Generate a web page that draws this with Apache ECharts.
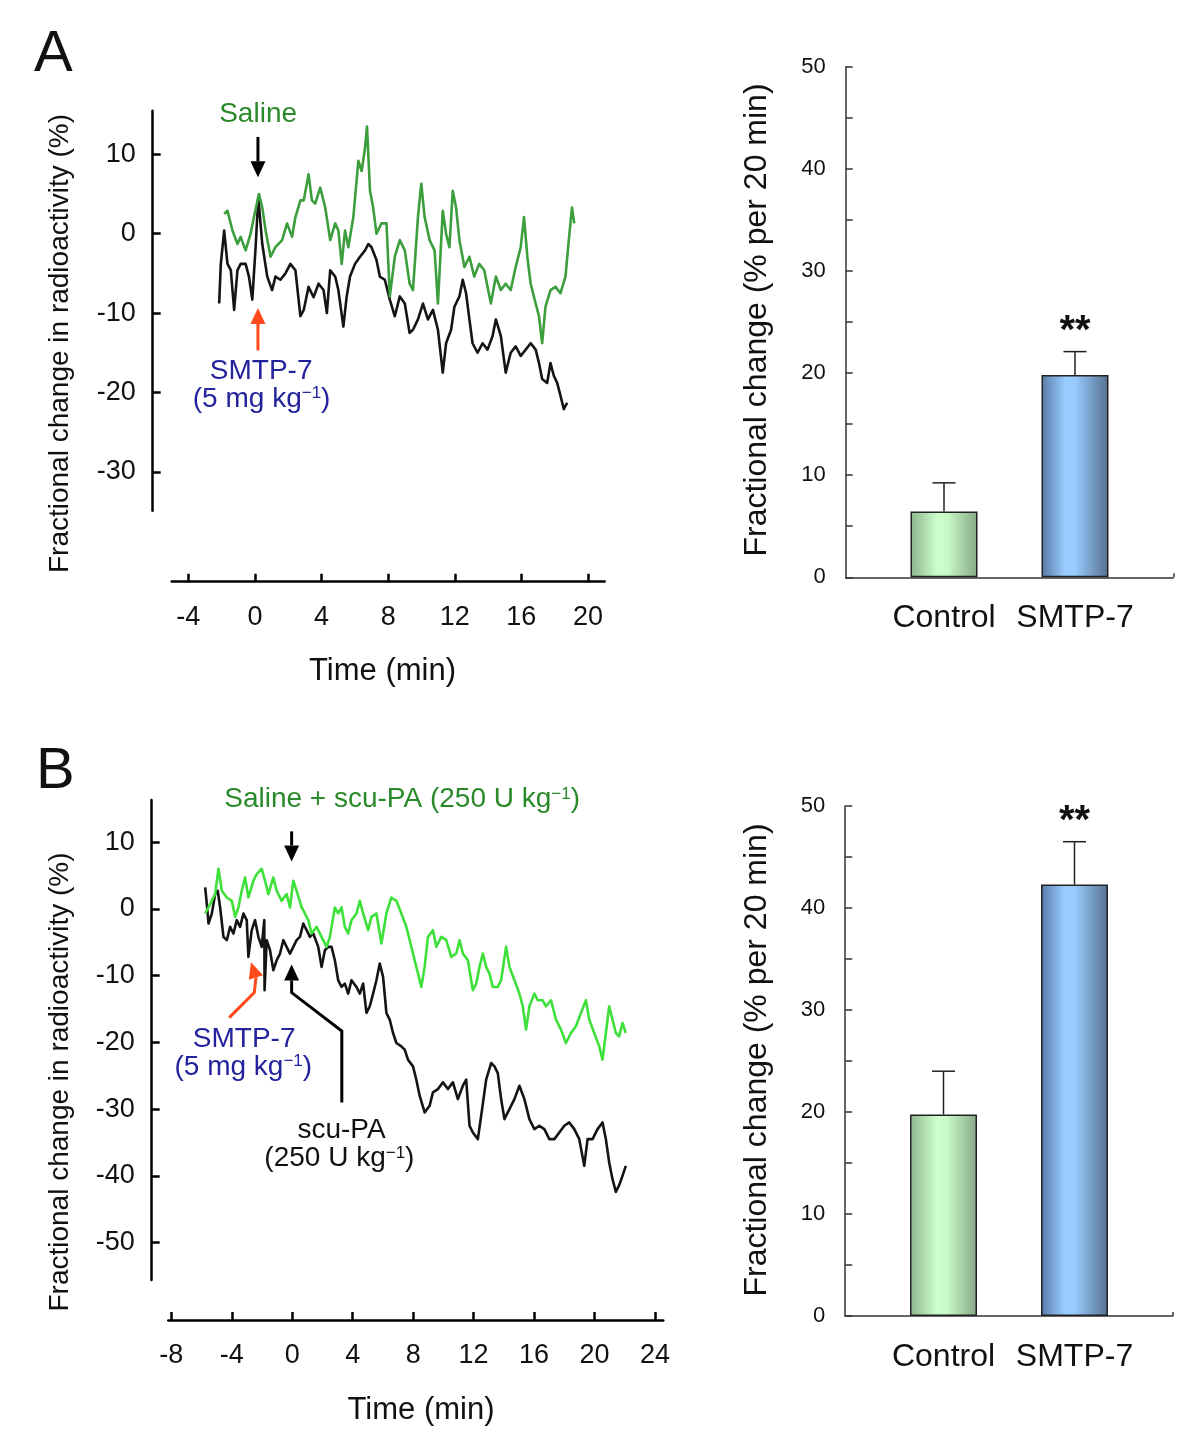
<!DOCTYPE html>
<html><head><meta charset="utf-8">
<script src="https://cdn.jsdelivr.net/npm/echarts@6/dist/echarts.min.js"></script>
<style>html,body{margin:0;padding:0;background:#fff}#c{width:1200px;height:1444px}</style>
</head><body><div id="c"></div>
<script>
// ---------------- DATA ----------------
// Panel A traces: [time (min), fractional change in radioactivity (%)]
const salineA = [[-1.85,2.5],[-1.65,2.9],[-1.35,0.4],[-1.05,-1.3],[-0.86,-0.4],[-0.56,-2.1],[-0.26,0],[-0.06,2.1],[0.24,5.0],[0.44,3.3],[0.64,0.4],[0.94,-2.9],[1.23,-1.7],[1.63,-0.8],[1.93,1.3],[2.23,-0.4],[2.43,2.1],[2.73,4.2],[2.93,4.2],[3.22,7.5],[3.42,4.2],[3.62,3.8],[3.92,5.8],[4.22,3.3],[4.52,-0.8],[4.82,1.3],[5.01,0.4],[5.21,-3.8],[5.41,0.4],[5.61,-1.7],[5.91,2.1],[6.21,9.2],[6.41,7.9],[6.61,10.8],[6.73,13.5],[6.91,5.4],[7.10,3.3],[7.30,0],[7.60,1.3],[7.90,1.3],[8.10,-7.9],[8.40,-2.9],[8.70,-0.8],[9.00,-2.1],[9.29,-6.3],[9.49,-7.1],[9.79,2.1],[9.99,6.3],[10.19,2.1],[10.49,-0.8],[10.79,-2.1],[10.99,-8.8],[11.28,2.9],[11.48,0],[11.68,-1.7],[11.88,5.4],[12.08,3.3],[12.28,-0.8],[12.58,-4.2],[12.88,-2.9],[13.17,-5.4],[13.47,-3.8],[13.77,-4.6],[14.17,-8.8],[14.47,-5.4],[14.77,-7.1],[15.06,-6.3],[15.36,-7.1],[15.66,-4.2],[15.96,-1.7],[16.16,2.1],[16.36,-2.9],[16.56,-6.3],[16.86,-8.8],[17.06,-10.4],[17.25,-13.8],[17.45,-9.2],[17.75,-7.1],[18.05,-6.7],[18.35,-7.5],[18.65,-5.4],[18.85,-0.8],[19.04,3.3],[19.18,1.3]];
const smtpA = [[-2.15,-8.8],[-2.05,-3.8],[-1.85,0.4],[-1.65,-3.8],[-1.45,-4.6],[-1.25,-9.6],[-1.05,-4.6],[-0.86,-3.8],[-0.56,-3.8],[-0.36,-5.4],[-0.16,-8.3],[0.04,-1.7],[0.20,4.6],[0.44,-1.3],[0.74,-5.4],[1.03,-7.1],[1.23,-5.4],[1.53,-5.8],[1.83,-5.0],[2.13,-3.8],[2.43,-4.6],[2.73,-10.4],[2.93,-9.6],[3.22,-6.7],[3.52,-8.0],[3.82,-6.3],[4.12,-7.1],[4.32,-10.0],[4.52,-4.6],[4.82,-5.4],[5.01,-7.1],[5.31,-11.7],[5.51,-7.9],[5.71,-5.4],[6.01,-3.8],[6.31,-2.9],[6.61,-2.1],[6.81,-1.3],[7.00,-1.7],[7.30,-3.3],[7.50,-5.4],[7.80,-5.8],[8.10,-8.3],[8.40,-10.4],[8.70,-7.9],[9.00,-8.8],[9.29,-12.5],[9.49,-12.1],[9.79,-10.8],[10.09,-8.8],[10.39,-10.8],[10.69,-9.6],[10.99,-12.1],[11.28,-17.5],[11.48,-13.8],[11.78,-12.1],[11.98,-9.2],[12.28,-7.9],[12.48,-5.8],[12.68,-7.5],[12.88,-10.8],[13.07,-13.8],[13.37,-15.0],[13.67,-13.8],[13.97,-14.6],[14.27,-12.9],[14.47,-10.8],[14.77,-12.9],[15.06,-17.5],[15.36,-15.0],[15.66,-14.2],[15.96,-15.4],[16.26,-14.6],[16.56,-13.8],[16.86,-14.6],[17.06,-16.3],[17.25,-18.3],[17.55,-18.8],[17.75,-16.3],[17.95,-17.9],[18.15,-18.8],[18.35,-20.4],[18.55,-22.1],[18.75,-21.3]];
// Panel B traces
const salineScuB = [[-5.76,-0.7],[-5.43,0.7],[-5.10,2.2],[-4.88,6.0],[-4.66,2.7],[-4.33,1.7],[-4.00,1.2],[-3.78,-1.2],[-3.56,0.2],[-3.34,2.7],[-3.12,4.7],[-2.90,1.7],[-2.57,4.2],[-2.35,5.2],[-2.02,6.0],[-1.80,4.2],[-1.58,2.2],[-1.25,4.7],[-1.03,2.7],[-0.70,1.2],[-0.37,2.2],[-0.15,0.2],[0.07,4.2],[0.29,2.7],[0.62,0.2],[0.84,-0.7],[1.06,-1.7],[1.28,-3.7],[1.61,-2.7],[1.94,-4.2],[2.27,-5.7],[2.49,-4.2],[2.82,0.2],[3.04,-0.7],[3.26,0.2],[3.48,-2.7],[3.70,-3.7],[3.92,-1.7],[4.25,-0.7],[4.47,1.2],[4.69,-0.7],[5.02,-3.2],[5.24,-1.2],[5.57,-0.7],[5.90,-5.2],[6.23,-0.7],[6.56,1.7],[6.89,1.2],[7.22,-0.7],[7.55,-2.7],[7.77,-4.7],[7.99,-6.7],[8.32,-9.7],[8.54,-11.7],[8.76,-8.7],[8.98,-4.2],[9.31,-3.2],[9.53,-5.7],[9.86,-4.2],[10.19,-4.7],[10.52,-7.2],[10.85,-6.7],[11.07,-4.7],[11.29,-6.7],[11.62,-7.7],[11.95,-12.2],[12.17,-11.2],[12.39,-8.7],[12.61,-6.7],[12.83,-8.7],[13.05,-9.7],[13.27,-11.7],[13.60,-11.7],[13.82,-10.7],[14.15,-5.7],[14.37,-8.7],[14.70,-10.7],[15.03,-12.7],[15.25,-14.6],[15.47,-18.1],[15.69,-14.6],[16.02,-12.7],[16.24,-13.7],[16.57,-13.7],[16.79,-14.6],[17.12,-13.7],[17.45,-16.6],[17.78,-18.1],[18.11,-20.1],[18.44,-18.6],[18.77,-17.6],[19.10,-15.6],[19.43,-13.7],[19.65,-16.6],[19.98,-18.6],[20.31,-20.6],[20.53,-22.6],[20.75,-18.6],[20.97,-14.6],[21.19,-16.6],[21.41,-18.6],[21.63,-19.1],[21.85,-17.1],[22.07,-18.6]];
const smtpScuB = [[-5.76,3.2],[-5.65,0.7],[-5.54,-2.2],[-5.32,-0.7],[-5.10,2.2],[-4.93,2.7],[-4.77,0.2],[-4.55,-4.2],[-4.33,-4.7],[-4.11,-2.7],[-3.89,-3.7],[-3.67,-1.7],[-3.45,-2.7],[-3.23,-0.7],[-3.01,-1.7],[-2.90,-7.2],[-2.68,-3.2],[-2.46,-1.7],[-2.24,-4.2],[-2.02,-5.7],[-1.85,-1.7],[-1.83,-12.2],[-1.69,-4.7],[-1.47,-6.2],[-1.25,-9.2],[-1.03,-7.7],[-0.81,-6.7],[-0.59,-4.7],[-0.37,-5.7],[-0.15,-6.7],[0.07,-5.7],[0.29,-4.7],[0.51,-4.2],[0.73,-2.2],[0.95,-3.2],[1.17,-4.2],[1.39,-3.7],[1.72,-5.7],[1.94,-8.7],[2.16,-6.2],[2.38,-5.7],[2.60,-5.7],[2.82,-7.7],[3.04,-10.7],[3.26,-11.7],[3.48,-11.2],[3.70,-12.7],[3.92,-10.7],[4.25,-11.7],[4.47,-12.7],[4.69,-11.2],[4.91,-15.6],[5.13,-14.6],[5.35,-12.7],[5.57,-10.7],[5.79,-8.2],[6.01,-10.2],[6.23,-15.6],[6.45,-16.6],[6.67,-18.6],[6.89,-20.1],[7.22,-20.6],[7.44,-21.1],[7.66,-22.6],[7.99,-23.6],[8.21,-25.6],[8.43,-28.0],[8.76,-30.5],[9.09,-29.5],[9.31,-27.5],[9.64,-27.0],[9.97,-26.0],[10.30,-27.0],[10.63,-26.0],[10.96,-28.5],[11.29,-26.5],[11.51,-25.6],[11.73,-32.5],[11.95,-33.5],[12.28,-34.5],[12.50,-31.0],[12.83,-25.6],[13.16,-23.1],[13.38,-23.6],[13.60,-24.6],[13.82,-28.5],[14.04,-31.5],[14.37,-30.0],[14.70,-28.5],[15.03,-26.5],[15.36,-28.5],[15.69,-31.5],[16.02,-33.0],[16.35,-32.5],[16.68,-33.0],[17.01,-34.5],[17.34,-34.5],[17.67,-33.5],[18.00,-32.5],[18.33,-32.0],[18.66,-33.0],[18.99,-34.5],[19.32,-38.5],[19.54,-34.5],[19.87,-34.5],[20.20,-33.0],[20.53,-32.0],[20.75,-34.5],[20.97,-38.0],[21.19,-40.5],[21.41,-42.4],[21.63,-41.4],[21.85,-40.0],[22.07,-38.5]];

const timeTicksA = [-4, 0, 4, 8, 12, 16, 20];
const valueTicksA = [-30, -20, -10, 0, 10];
const timeTicksB = [-8, -4, 0, 4, 8, 12, 16, 20, 24];
const valueTicksB = [-50, -40, -30, -20, -10, 0, 10];

const barCategories = ['Control', 'SMTP-7'];
const barMeanA = [6.45, 19.8];
const barErrA = [2.8, 2.3];
const barMeanB = [19.75, 42.3];
const barErrB = [4.25, 4.2];
const sigLabels = ['', '**'];

// ---------------- STYLE / LAYOUT ----------------
const FONT = "'Liberation Sans', Arial, Helvetica, sans-serif";
const GREEN_A = '#3c9e3c', GREEN_B = '#3ee03a', GREEN_TXT = '#2a8a2a';
const BLUE_TXT = '#23239e', RED = '#ff4a1c', BLACK = '#141414';

// annotations in data coordinates
const arrowsA = [
  {path: [[0.18, 12.2], [0.18, 7.1]], color: '#000'},
  {path: [[0.18, -14.7], [0.18, -9.35]], color: RED}
];
const labelsA = [
  {at: [0.19, 15.1], text: 'Saline', color: GREEN_TXT},
  {at: [0.37, -17.3], text: 'SMTP-7', color: BLUE_TXT},
  {at: [0.4, -20.8], text: '(5 mg kg', sup: '\u22121', tail: ')', color: BLUE_TXT}
];
const arrowsB = [
  {path: [[-0.04, 11.6], [-0.04, 7.1]], color: '#000'},
  {path: [[3.28, -29.0], [3.28, -18.3], [-0.04, -12.55], [-0.04, -8.33]], color: '#000'},
  {path: [[-4.17, -16.3], [-2.51, -12.55], [-2.4, -10.3], [-2.73, -8.0]], color: RED}
];
const labelsB = [
  {at: [7.27, 16.35], text: 'Saline + scu-PA (250 U kg', sup: '\u22121', tail: ')', color: GREEN_TXT},
  {at: [-3.18, -19.5], text: 'SMTP-7', color: BLUE_TXT},
  {at: [-3.24, -23.7], text: '(5 mg kg', sup: '\u22121', tail: ')', color: BLUE_TXT},
  {at: [3.26, -33.1], text: 'scu-PA', color: '#111'},
  {at: [3.12, -37.4], text: '(250 U kg', sup: '\u22121', tail: ')', color: '#111'}
];

function richLabel(l, size) {
  const txt = l.sup ? '{m|' + l.text + '}{s|' + l.sup + '}{m|' + l.tail + '}' : '{m|' + l.text + '}';
  return {
    text: txt, align: 'center', verticalAlign: 'middle',
    rich: {
      m: {fontSize: size, fontFamily: FONT, fill: l.color},
      s: {fontSize: Math.round(size * 0.6), fontFamily: FONT, fill: l.color, verticalAlign: 'top'}
    }
  };
}

function annoRender(arrows, labels) {
  return function (params, api) {
    const children = [];
    arrows.forEach(a => {
      const pts = a.path.map(p => api.coord(p));
      const n = pts.length;
      const tip = pts[n - 1], prev = pts[n - 2];
      const dx = tip[0] - prev[0], dy = tip[1] - prev[1];
      const len = Math.hypot(dx, dy), ux = dx / len, uy = dy / len;
      const hl = 16, hw = 15;
      const bx = tip[0] - ux * hl, by = tip[1] - uy * hl;
      const shaft = pts.slice(0, n - 1).concat([[bx, by]]);
      children.push({type: 'polyline', shape: {points: shaft}, style: {stroke: a.color, lineWidth: 3, fill: null}});
      children.push({type: 'polygon', shape: {points: [tip, [bx - uy * hw / 2, by + ux * hw / 2], [bx + uy * hw / 2, by - ux * hw / 2]]}, style: {fill: a.color}});
    });
    labels.forEach(l => {
      const p = api.coord(l.at);
      children.push({type: 'text', x: p[0], y: p[1], style: richLabel(l, 28)});
    });
    return {type: 'group', children: children};
  };
}

function errRender(means, errs) {
  return function (params, api) {
    const i = params.dataIndex;
    const base = api.coord([i, means[i]]);
    const top = api.coord([i, means[i] + errs[i]]);
    const st = {stroke: '#222', lineWidth: 1.5};
    const children = [
      {type: 'line', shape: {x1: base[0], y1: base[1], x2: top[0], y2: top[1]}, style: st},
      {type: 'line', shape: {x1: top[0] - 11.5, y1: top[1], x2: top[0] + 11.5, y2: top[1]}, style: st}
    ];
    if (sigLabels[i]) {
      children.push({type: 'text', x: top[0], y: top[1] - 20,
        style: {text: sigLabels[i], fontSize: 40, fontWeight: 'bold', fontFamily: FONT, fill: '#111', align: 'center', verticalAlign: 'middle'}});
    }
    return {type: 'group', children: children};
  };
}

const axisBlack = {color: '#000', width: 2.5};
function lineXAxis(grid, min, max, offset, ticks) {
  return {
    type: 'value', gridIndex: grid, min: min, max: max, offset: offset,
    axisLine: {show: true, onZero: false, lineStyle: axisBlack},
    axisTick: {show: true, inside: true, length: 8, lineStyle: axisBlack, customValues: ticks},
    axisLabel: {show: true, customValues: ticks, fontSize: 27, fontFamily: FONT, color: '#111', margin: 22},
    splitLine: {show: false}
  };
}
function lineYAxis(grid, min, max, offset, ticks) {
  return {
    type: 'value', gridIndex: grid, min: min, max: max, offset: offset,
    axisLine: {show: true, onZero: false, lineStyle: axisBlack},
    axisTick: {show: true, inside: true, length: 8, lineStyle: axisBlack, customValues: ticks},
    axisLabel: {show: true, customValues: ticks, fontSize: 27, fontFamily: FONT, color: '#111', margin: 17},
    splitLine: {show: false}
  };
}
const axisGrey = {color: '#333', width: 1.5};
function barBaseXAxis(grid) {
  return {
    type: 'value', gridIndex: grid, min: 0, max: 1,
    axisLine: {show: true, onZero: false, lineStyle: axisGrey},
    axisTick: {show: true, inside: true, length: 4, lineStyle: axisGrey, customValues: [1]},
    axisLabel: {show: false}, splitLine: {show: false}
  };
}
function barYAxis(grid) {
  return {
    type: 'value', gridIndex: grid, min: 0, max: 50, interval: 5,
    axisLine: {show: true, onZero: false, lineStyle: axisGrey},
    axisTick: {show: true, inside: true, length: 7, lineStyle: axisGrey},
    axisLabel: {show: true, fontSize: 22, fontFamily: FONT, color: '#111', margin: 20,
      formatter: v => (v % 10 === 0 ? String(v) : '')},
    splitLine: {show: false}
  };
}
function barCatXAxis(grid) {
  return {
    type: 'category', gridIndex: grid, data: barCategories,
    axisLine: {show: false}, axisTick: {show: false},
    axisLabel: {interval: 0, hideOverlap: false, fontSize: 32, fontFamily: FONT, color: '#111', margin: 25}
  };
}
function hiddenYAxis(grid) {
  return {type: 'value', gridIndex: grid, min: 0, max: 50, show: false};
}

const gradGreen = new echarts.graphic.LinearGradient(0, 0, 1, 0, [
  {offset: 0, color: '#8db58d'}, {offset: 0.4, color: '#ccffcc'}, {offset: 0.55, color: '#c8fac8'}, {offset: 1, color: '#86a886'}]);
const gradBlue = new echarts.graphic.LinearGradient(0, 0, 1, 0, [
  {offset: 0, color: '#587aa6'}, {offset: 0.35, color: '#99ccff'}, {offset: 0.5, color: '#99ccff'}, {offset: 1, color: '#546f8e'}]);
const barFills = [gradGreen, gradBlue];

function barSeries(x, y, means) {
  return {
    type: 'bar', xAxisIndex: x, yAxisIndex: y, barWidth: 67,
    data: means.map((m, i) => ({value: m, itemStyle: {color: barFills[i], borderColor: '#222', borderWidth: 1.5}})),
    silent: true
  };
}

function vtitle(text, x, y, size) {
  return {type: 'text', x: x, y: y, rotation: Math.PI / 2,
    style: {text: text, fontSize: size, fontFamily: FONT, fill: '#111', align: 'center', verticalAlign: 'middle', textAlign: 'center', textVerticalAlign: 'middle'}};
}
function htitle(text, x, y, size, align) {
  return {type: 'text', x: x, y: y,
    style: {text: text, fontSize: size, fontFamily: FONT, fill: '#111', align: align || 'center', verticalAlign: 'middle', textAlign: align || 'center', textVerticalAlign: 'middle'}};
}

const traceStyle = (c) => ({color: c, width: 2.6, join: 'round'});

const chart = echarts.init(document.getElementById('c'), null, {renderer: 'canvas'});
chart.setOption({
  animation: false,
  backgroundColor: '#fff',
  grid: [
    {left: 171.7, top: 110.7, width: 432.9, height: 400},
    {left: 168.3, top: 800, width: 495, height: 480},
    {left: 845.7, top: 66.7, width: 327.6, height: 510.6},
    {left: 878.5, top: 66.7, width: 262, height: 510.6},
    {left: 845.2, top: 806, width: 327.6, height: 510},
    {left: 878, top: 806, width: 262, height: 510}
  ],
  xAxis: [
    lineXAxis(0, -5, 21, 71, timeTicksA),
    lineXAxis(1, -8.2, 24.55, 40, timeTicksB),
    barBaseXAxis(2), barCatXAxis(3),
    barBaseXAxis(4), barCatXAxis(5)
  ],
  yAxis: [
    lineYAxis(0, -34.9, 15.5, 19, valueTicksA),
    lineYAxis(1, -55.6, 16.3, 16.6, valueTicksB),
    barYAxis(2), hiddenYAxis(3),
    barYAxis(4), hiddenYAxis(5)
  ],
  series: [
    {type: 'line', xAxisIndex: 0, yAxisIndex: 0, data: smtpA, showSymbol: false, symbol: 'none', lineStyle: traceStyle(BLACK), z: 2},
    {type: 'line', xAxisIndex: 0, yAxisIndex: 0, data: salineA, showSymbol: false, symbol: 'none', lineStyle: traceStyle(GREEN_A), z: 3},
    {type: 'custom', xAxisIndex: 0, yAxisIndex: 0, data: [[0, 0]], renderItem: annoRender(arrowsA, labelsA), clip: false, silent: true, z: 5},
    {type: 'line', xAxisIndex: 1, yAxisIndex: 1, data: smtpScuB, showSymbol: false, symbol: 'none', lineStyle: traceStyle(BLACK), z: 2},
    {type: 'line', xAxisIndex: 1, yAxisIndex: 1, data: salineScuB, showSymbol: false, symbol: 'none', lineStyle: traceStyle(GREEN_B), z: 3},
    {type: 'custom', xAxisIndex: 1, yAxisIndex: 1, data: [[0, 0]], renderItem: annoRender(arrowsB, labelsB), clip: false, silent: true, z: 5},
    barSeries(3, 3, barMeanA),
    {type: 'custom', xAxisIndex: 3, yAxisIndex: 3, data: barMeanA.map((m, i) => [i, m + barErrA[i]]), renderItem: errRender(barMeanA, barErrA), clip: false, silent: true, z: 5},
    barSeries(5, 5, barMeanB),
    {type: 'custom', xAxisIndex: 5, yAxisIndex: 5, data: barMeanB.map((m, i) => [i, m + barErrB[i]]), renderItem: errRender(barMeanB, barErrB), clip: false, silent: true, z: 5}
  ],
  graphic: [
    htitle('A', 34, 55, 58, 'left'),
    htitle('B', 36, 772, 58, 'left'),
    vtitle('Fractional change in radioactivity (%)', 60, 343.5, 28),
    vtitle('Fractional change in radioactivity (%)', 60, 1082, 28),
    vtitle('Fractional change (% per 20 min)', 757, 320, 32),
    vtitle('Fractional change (% per 20 min)', 757, 1060, 32),
    htitle('Time (min)', 382.5, 671, 31),
    htitle('Time (min)', 421, 1410, 31)
  ]
});
</script></body></html>
